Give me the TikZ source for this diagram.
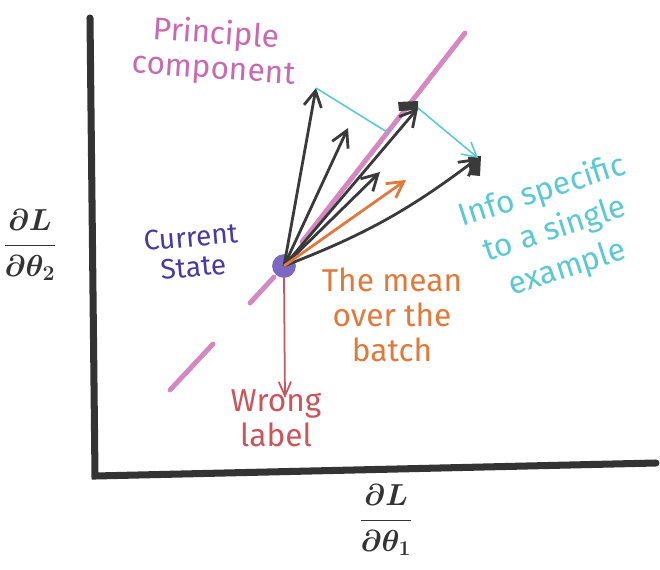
\documentclass[tikz,border=0pt]{standalone}
\usepackage{fontspec}
\setmainfont{Fira Sans}
\usetikzlibrary{arrows.meta}
\definecolor{axisgray}{HTML}{333333}
\definecolor{pcpink}{HTML}{C86AB0}
\definecolor{dotpurple}{HTML}{7B68C0}
\definecolor{statepurple}{HTML}{4B3A9E}
\definecolor{infocyan}{HTML}{5BC8D2}
\definecolor{meanorange}{HTML}{E07A3C}
\definecolor{wrongred}{HTML}{C8565C}
\definecolor{gradgray}{HTML}{3A3A3A}
\tikzset{
  note/.style={align=center, font=\fontsize{18}{20}\selectfont},
  grad/.style={gradgray, line width=1.6pt, -{Straight Barb[length=9pt,width=10pt]}},
  diff/.style={infocyan, line width=0.9pt},
  axislabel/.style={axisgray, font=\fontsize{18}{22}\selectfont\boldmath}
}
\begin{document}
\begin{tikzpicture}[x=0.02cm, y=-0.02cm]
    \useasboundingbox (0,0) rectangle (660,569);

    %axis
    \draw[axisgray, line width=4pt, line cap=round] (90,18) -- (95,476) -- (656,463);

    %principle component (dashes)
    \draw[pcpink, opacity=0.8, line width=2.8pt, line cap=round] (170,390) -- (213,344);
    \draw[pcpink, opacity=0.8, line width=2.8pt, line cap=round] (250,303) -- (274,277);
    \draw[pcpink, opacity=0.8, line width=2.8pt, line cap=round] (302,242) -- (465,33);

    %current state
    \node[circle, fill=dotpurple, inner sep=0pt, minimum size=13.5pt] (state) at (284,266) {};

    %gradient tips
    \coordinate (g1) at (316,88);
    \coordinate (g2) at (348,128);
    \coordinate (g3) at (418,108);
    \coordinate (g4) at (380,172);
    \coordinate (g5) at (478,158);
    \coordinate (mean) at (406,180);
    \coordinate (wrong) at (285,398);
    \coordinate (onpc) at (387,132);

    %gradients of single examples
    \draw[grad] (state.center) -- (g1);
    \draw[grad] (state.center) -- (g2);
    \draw[grad] (state.center) -- (g3);
    \draw[grad] (state.center) -- (g4);
    \draw[grad] (state.center) to[bend right=8] (g5);
    \fill[gradgray] (398,102) -- (418,101) -- (418,110) -- (399,111) -- cycle;
    \fill[gradgray] (468,157) -- (481,156) -- (480,176) -- (470,175) -- cycle;

    %mean and wrong label
    \draw[meanorange, line width=1.6pt, -{Straight Barb[length=9pt,width=10pt]}] (state.center) -- (mean);
    \draw[wrongred, line width=1pt, -{Straight Barb[length=8pt,width=7pt]}] (state.south) -- (wrong);

    %differences
    \draw[diff] (g1) -- (onpc);
    \draw[diff, -{Straight Barb[length=8pt,width=9pt]}] (g3) -- (g5);

    %labels
    \node[note, pcpink, rotate=-4] (pclabel) at (215,52) {Principle\\component};
    \node[note, statepurple, rotate=5, font=\fontsize{16}{17}\selectfont] (statelabel) at (192,252) {Current\\State};
    \node[note, infocyan, rotate=18, font=\fontsize{18}{23}\selectfont] (infolabel) at (555,230) {Info specific\\to a single\\example};
    \node[note, meanorange] (meanlabel) at (392,315) {The mean\\over the\\batch};
    \node[note, wrongred] (wronglabel) at (276,418) {Wrong\\label};
    \node[axislabel] (ylabel) at (30,245) {$\displaystyle\frac{\partial L}{\partial\theta_2}$};
    \node[axislabel] (xlabel) at (386,520) {$\displaystyle\frac{\partial L}{\partial\theta_1}$};
\end{tikzpicture}
\end{document}
